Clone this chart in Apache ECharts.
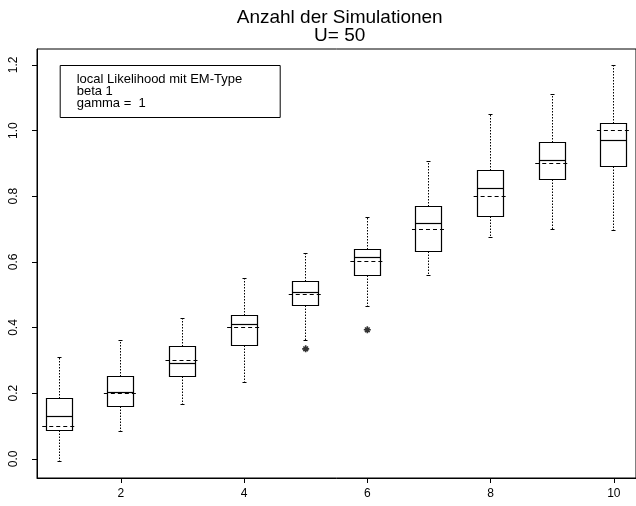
<!DOCTYPE html>
<html><head><meta charset="utf-8">
<script src="https://cdn.jsdelivr.net/npm/echarts@6/dist/echarts.min.js"></script>
<style>html,body{margin:0;padding:0;background:#fff}#c{width:636px;height:506px}</style>
</head><body><div id="c"></div>
<script>
// ---- data ----
const positions   = [1, 2, 3, 4, 5, 6, 7, 8, 9, 10];
const trueValues  = [0.1, 0.2, 0.3, 0.4, 0.5, 0.6, 0.7, 0.8, 0.9, 1.0];
const whiskerLow  = [-0.009, 0.083, 0.165, 0.233, 0.360, 0.464, 0.558, 0.675, 0.698, 0.697];
const q1          = [0.087, 0.160, 0.250, 0.346, 0.466, 0.558, 0.632, 0.737, 0.851, 0.890];
const median      = [0.130, 0.202, 0.291, 0.410, 0.507, 0.614, 0.716, 0.822, 0.909, 0.969];
const q3          = [0.183, 0.251, 0.343, 0.436, 0.540, 0.637, 0.769, 0.878, 0.964, 1.020];
const whiskerHigh = [0.309, 0.359, 0.428, 0.549, 0.624, 0.735, 0.906, 1.050, 1.110, 1.198];
const outlierPos  = [5, 6];
const outlierVal  = [0.335, 0.393];
const xTicks = [2, 4, 6, 8, 10];
const yTicks = [0.0, 0.2, 0.4, 0.6, 0.8, 1.0, 1.2];
const titleText = 'Anzahl der Simulationen\nU= 50';
const legendLines = ['local Likelihood mit EM-Type', 'beta 1', 'gamma =  1'];

// ---- build ----
const FONT = 'Liberation Sans, Arial, sans-serif';
const BOX_HALF = 0.206;   // in x units
const TRUE_HALF = 0.275;  // in x units
const boxData = positions.map((p, i) => [p, whiskerLow[i], q1[i], median[i], q3[i], whiskerHigh[i]]);
const trueData = positions.map((p, i) => [p, trueValues[i]]);
const outData = outlierPos.map((p, i) => [p, outlierVal[i]]);

function crisp(v) { return Math.round(v - 0.5) + 0.5; }

function renderBox(params, api) {
  const x = api.value(0);
  const unit = api.size([1, 0])[0];
  const cx = crisp(api.coord([x, 0])[0]);
  const bh = unit * BOX_HALF;
  const x0 = crisp(cx - bh), x1 = crisp(cx + bh);
  const Y = k => crisp(api.coord([x, api.value(k)])[1]);
  const ylo = Y(1), yq1 = Y(2), ymed = Y(3), yq3 = Y(4), yhi = Y(5);
  const solid = { stroke: '#000', lineWidth: 1, fill: 'none' };
  const dotted = { stroke: '#000', lineWidth: 1, lineDash: [1.5, 1.5] };
  return {
    type: 'group',
    children: [
      { type: 'line', shape: { x1: cx, y1: yq3, x2: cx, y2: yhi }, style: dotted },
      { type: 'line', shape: { x1: cx, y1: yq1, x2: cx, y2: ylo }, style: dotted },
      { type: 'line', shape: { x1: cx - 2, y1: yhi, x2: cx + 2, y2: yhi }, style: solid },
      { type: 'line', shape: { x1: cx - 2, y1: ylo, x2: cx + 2, y2: ylo }, style: solid },
      { type: 'rect', shape: { x: x0, y: yq3, width: x1 - x0, height: yq1 - yq3 }, style: { stroke: '#000', lineWidth: 1.2, fill: '#fff' } },
      { type: 'line', shape: { x1: x0, y1: ymed, x2: x1, y2: ymed }, style: { stroke: '#000', lineWidth: 1.2 } }
    ]
  };
}

function renderTrue(params, api) {
  const x = api.value(0);
  const unit = api.size([1, 0])[0];
  const p = api.coord([x, api.value(1)]);
  const y = crisp(p[1]);
  return {
    type: 'line',
    shape: { x1: p[0] - unit * TRUE_HALF, y1: y, x2: p[0] + unit * TRUE_HALF, y2: y },
    style: { stroke: '#000', lineWidth: 1, lineDash: [4, 3] }
  };
}

const chart = echarts.init(document.getElementById('c'), null, { renderer: 'canvas' });
chart.setOption({
  backgroundColor: '#fff',
  animation: false,
  title: [
    {
      text: titleText, left: 339.7, top: 8, padding: 0, textAlign: 'center',
      textStyle: { fontFamily: FONT, fontSize: 19, fontWeight: 'normal', color: '#000', lineHeight: 18.7 }
    },
    {
      text: legendLines.join('\n'), left: 60, top: 65.7, padding: [7.3, 4, 8.7, 16.7],
      borderColor: '#000', borderWidth: 1,
      textStyle: { fontFamily: FONT, fontSize: 13, fontWeight: 'normal', color: '#000', lineHeight: 12, width: 200 }
    }
  ],
  grid: { left: 37, top: 49, width: 605.4, height: 429, show: true, borderColor: '#000', borderWidth: 1, backgroundColor: 'transparent', containLabel: false },
  xAxis: {
    type: 'value', min: 0.64, max: 10.36,
    axisLine: { show: true, onZero: false, lineStyle: { color: '#000', width: 1 } },
    axisTick: { show: true, customValues: xTicks, length: 5, lineStyle: { color: '#000' } },
    axisLabel: { customValues: xTicks, fontFamily: FONT, fontSize: 12, color: '#000', margin: 10 },
    splitLine: { show: false }
  },
  yAxis: {
    type: 'value', min: -0.0584, max: 1.2484,
    axisLine: { show: true, onZero: false, lineStyle: { color: '#000', width: 1 } },
    axisTick: { show: true, customValues: yTicks, length: 5, lineStyle: { color: '#000' } },
    axisLabel: { customValues: yTicks, rotate: 90, fontFamily: FONT, fontSize: 12, color: '#000', margin: 17,
      formatter: v => Number(v).toFixed(1) },
    splitLine: { show: false }
  },
  series: [
    { type: 'custom', name: 'box', data: boxData, encode: { x: 0, y: [1, 2, 3, 4, 5] }, renderItem: renderBox, z: 2 },
    { type: 'custom', name: 'true', data: trueData, encode: { x: 0, y: 1 }, renderItem: renderTrue, z: 3 },
    { type: 'scatter', name: 'outlier', data: outData,
      symbol: 'path://M0 3L6 3M3 0L3 6M1 1L5 5M1 5L5 1', symbolSize: 7,
      itemStyle: { color: 'none', borderColor: '#000', borderWidth: 1.6 }, z: 3 }
  ]
});
</script>
</body></html>
